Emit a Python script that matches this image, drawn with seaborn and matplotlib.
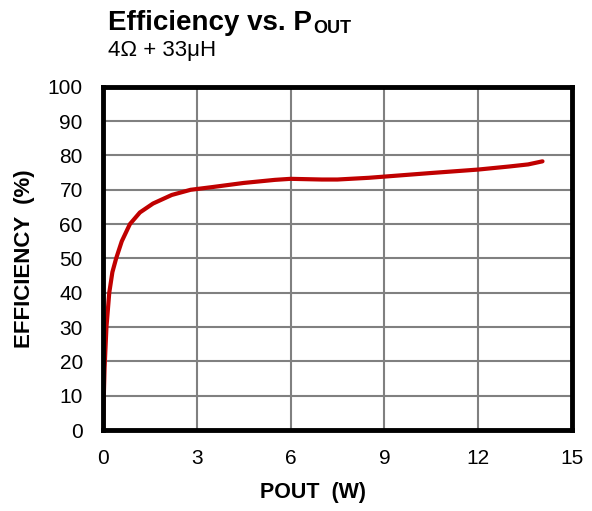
import numpy as np
import pandas as pd
import matplotlib
matplotlib.use("Agg")
import matplotlib.pyplot as plt
import seaborn as sns

# values
pout_w = [0, 0.02, 0.05, 0.11, 0.2, 0.3, 0.42, 0.6, 0.86, 1.18, 1.6, 2.2, 2.8,
          3.5, 4.5, 5.5, 6.0, 7.0, 7.5, 8.5, 9.5, 10.5, 12.0, 13.0, 13.6, 14.06]
efficiency = [0, 8, 18, 30, 40, 46, 50, 55, 60, 63.4, 66, 68.5, 70,
              70.8, 72, 72.9, 73.2, 73.0, 73.0, 73.5, 74.2, 74.9, 75.9, 76.8, 77.4, 78.3]
x_ticks = [0, 3, 6, 9, 12, 15]
y_ticks = [0, 10, 20, 30, 40, 50, 60, 70, 80, 90, 100]

df = pd.DataFrame({"POUT": pout_w, "EFF": efficiency})

sns.set_style("white")
plt.rcParams["font.family"] = ["Liberation Sans", "DejaVu Sans"]
plt.rcParams["text.color"] = "black"
plt.rcParams["axes.labelcolor"] = "black"

fig = plt.figure(figsize=(5.92, 5.11), dpi=100)
ax = fig.add_axes([0.174, 0.1585, 0.792, 0.6715])

sns.lineplot(data=df, x="POUT", y="EFF", sort=False, color="#C00000",
             linewidth=3, ax=ax)

ax.set_xlim(0, 15)
ax.set_ylim(0, 100)
ax.set_xticks(x_ticks)
ax.set_yticks(y_ticks)
ax.grid(True, color="#808080", linewidth=1.5)
ax.set_axisbelow(True)
for s in ax.spines.values():
    s.set_visible(True)
    s.set_color("black")
    s.set_linewidth(3.5)
ax.tick_params(length=0, labelsize=15, colors="black")
ax.tick_params(axis="y", pad=14.5)
ax.tick_params(axis="x", pad=14)

ax.set_xlabel("POUT  (W)", fontsize=15.5, fontweight="bold")
ax.xaxis.set_label_coords(0.448, -0.152)
ax.set_ylabel("EFFICIENCY  (%)", fontsize=16, fontweight="bold")
ax.yaxis.set_label_coords(-0.145, 0.5)

# title with subscript
t = fig.text(108 / 592, 1 - 30 / 511, "Efficiency vs. P", fontsize=20,
             fontweight="bold", ha="left", va="baseline")
fig.canvas.draw()
bb = t.get_window_extent(renderer=fig.canvas.get_renderer())
fig.text(bb.x1 / (fig.dpi * 5.92) + 0.002, 1 - 33 / 511, "OUT", fontsize=13,
         fontweight="bold", ha="left", va="baseline")
fig.text(108 / 592, 1 - 56 / 511, "4Ω + 33μH", fontsize=16,
         ha="left", va="baseline")

fig.savefig("out.png", dpi=100)
